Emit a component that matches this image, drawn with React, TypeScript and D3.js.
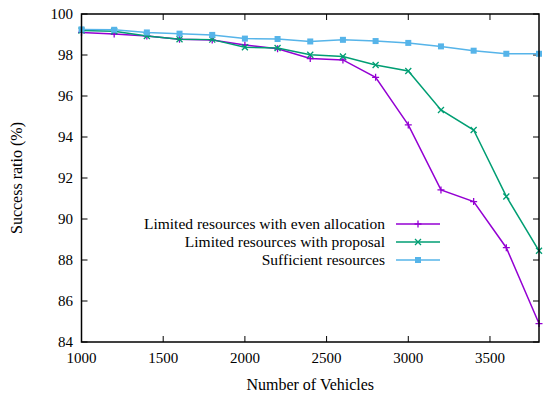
import React from 'react';
import * as d3 from 'd3';

const vehicles = [1000, 1200, 1400, 1600, 1800, 2000, 2200, 2400, 2600, 2800, 3000, 3200, 3400, 3600, 3800];
const evenAlloc = [99.1, 99.02, 98.93, 98.77, 98.73, 98.49, 98.3, 97.83, 97.76, 96.91, 94.59, 91.42, 90.85, 88.6, 84.9];
const proposal = [99.19, 99.16, 98.93, 98.77, 98.75, 98.38, 98.34, 98.01, 97.93, 97.51, 97.22, 95.32, 94.34, 91.1, 88.45];
const sufficient = [99.25, 99.23, 99.1, 99.04, 98.98, 98.8, 98.78, 98.66, 98.74, 98.68, 98.59, 98.42, 98.21, 98.06, 98.06];

const xTicks = [1000, 1500, 2000, 2500, 3000, 3500];
const yTicks = [84, 86, 88, 90, 92, 94, 96, 98, 100];

const series = [
  { name: 'Limited resources with even allocation', values: evenAlloc, color: '#9400d3', marker: 'plus' },
  { name: 'Limited resources with proposal', values: proposal, color: '#009e73', marker: 'cross' },
  { name: 'Sufficient resources', values: sufficient, color: '#56b4e9', marker: 'square' },
];

const W = 550, H = 399;
const left = 81.5, right = 539, top = 14, bottom = 342;
const fam = "'Liberation Serif', 'DejaVu Serif', 'Times New Roman', serif";
const tickStyle = { fontFamily: fam, fontSize: '15px' };
const legStyle = { fontFamily: fam, fontSize: '15.5px' };
const textStyle = { fontFamily: fam, fontSize: '16px' };

function Marker({ type, x, y, color }: { type: string; x: number; y: number; color: string }) {
  const s = 3.5;
  if (type === 'plus') {
    return <path d={`M${x - s},${y}H${x + s}M${x},${y - s}V${y + s}`} stroke={color} strokeWidth={1.3} />;
  }
  if (type === 'cross') {
    const c = 3;
    return <path d={`M${x - c},${y - c}L${x + c},${y + c}M${x - c},${y + c}L${x + c},${y - c}`} stroke={color} strokeWidth={1.3} />;
  }
  return <rect x={x - 3} y={y - 3} width={6} height={6} fill={color} />;
}

export default function App() {
  const x = d3.scaleLinear().domain([1000, 3800]).range([left, right]);
  const y = d3.scaleLinear().domain([84, 100]).range([bottom, top]);
  const line = d3.line<number>().x((_, i) => x(vehicles[i])).y(d => y(d));

  const legendY = [224, 242, 260];
  const legTextX = 385, legL1 = 396, legL2 = 440;

  return (
    <svg width={W} height={H} style={{ position: 'absolute', left: 0, top: 0, background: '#fff' }}>
      {xTicks.map(t => (
        <g key={'x' + t}>
          <line x1={x(t)} x2={x(t)} y1={bottom} y2={bottom - 6} stroke="#000" />
          <line x1={x(t)} x2={x(t)} y1={top} y2={top + 6} stroke="#000" />
          <text x={x(t)} y={363} textAnchor="middle" style={tickStyle}>{t}</text>
        </g>
      ))}
      {yTicks.map(t => (
        <g key={'y' + t}>
          <line x1={left} x2={left + 6} y1={y(t)} y2={y(t)} stroke="#000" />
          <line x1={right} x2={right - 6} y1={y(t)} y2={y(t)} stroke="#000" />
          <text x={73} y={y(t) + 5} textAnchor="end" style={tickStyle}>{t}</text>
        </g>
      ))}
      {series.map(s => (
        <g key={s.name}>
          <path d={line(s.values) || ''} fill="none" stroke={s.color} strokeWidth={1.5} />
          {s.values.map((v, i) => (
            <Marker key={i} type={s.marker} x={x(vehicles[i])} y={y(v)} color={s.color} />
          ))}
        </g>
      ))}
      <rect x={left} y={top} width={right - left} height={bottom - top} fill="none" stroke="#000" strokeWidth={1.5} />
      {series.map((s, i) => (
        <g key={'leg' + i}>
          <text x={legTextX} y={legendY[i] + 5} textAnchor="end" style={legStyle}>{s.name}</text>
          <line x1={legL1} x2={legL2} y1={legendY[i]} y2={legendY[i]} stroke={s.color} strokeWidth={1.5} />
          <Marker type={s.marker} x={(legL1 + legL2) / 2} y={legendY[i]} color={s.color} />
        </g>
      ))}
      <text x={(left + right) / 2} y={390} textAnchor="middle" style={textStyle}>Number of Vehicles</text>
      <text transform={`translate(22,${(top + bottom) / 2}) rotate(-90)`} textAnchor="middle" style={textStyle}>Success ratio (%)</text>
    </svg>
  );
}
